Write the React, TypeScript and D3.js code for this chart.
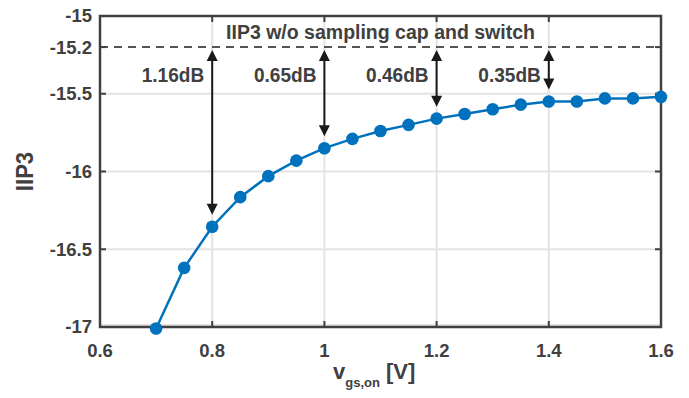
import React from "react";
import * as d3 from "d3";

const vgs = [0.7, 0.75, 0.8, 0.85, 0.9, 0.95, 1.0, 1.05, 1.1, 1.15, 1.2, 1.25, 1.3, 1.35, 1.4, 1.45, 1.5, 1.55, 1.6];
const iip3 = [-17.01, -16.62, -16.355, -16.165, -16.03, -15.93, -15.85, -15.79, -15.74, -15.70, -15.66, -15.63, -15.60, -15.57, -15.55, -15.55, -15.53, -15.53, -15.52];
const refLevel = -15.2;
const refLabel = "IIP3 w/o sampling cap and switch";
const arrowX = [0.8, 1.0, 1.2, 1.4];
const arrowLabels = ["1.16dB", "0.65dB", "0.46dB", "0.35dB"];
const xTicks = [0.6, 0.8, 1.0, 1.2, 1.4, 1.6];
const xTickLabels = ["0.6", "0.8", "1", "1.2", "1.4", "1.6"];
const yTicks = [-15, -15.2, -15.5, -16, -16.5, -17];
const yTickLabels = ["-15", "-15.2", "-15.5", "-16", "-16.5", "-17"];
const yGrid = [-15.5, -16, -16.5];

const W = 689, H = 398;
const L = 100, R = 661, T = 16, B = 327;
const FONT = "'Liberation Sans', Arial, sans-serif";
const AX = "#404040";
const BLUE = "#0072BD";

export default function App() {
  const x = d3.scaleLinear().domain([0.6, 1.6]).range([L, R]);
  const y = d3.scaleLinear().domain([-17, -15]).range([B, T]);
  const pts = vgs.map((v, i) => [v, iip3[i]] as [number, number]);
  const line = d3.line<[number, number]>().x(d => x(d[0])).y(d => y(d[1]));
  const ptOf = (v: number) => iip3[vgs.findIndex(a => Math.abs(a - v) < 1e-9)];
  const tick = 6;

  const arrowHead = (cx: number, tipY: number, dir: number) => {
    const hl = 11, hw = 5.5;
    return `M${cx},${tipY} L${cx - hw},${tipY + dir * hl} L${cx + hw},${tipY + dir * hl} Z`;
  };

  return (
    <svg width={W} height={H} style={{ position: "absolute", left: 0, top: 0, background: "#fff" }} fontFamily={FONT}>
      <rect x={0} y={0} width={W} height={H} fill="#fff" />
      {/* grid */}
      {xTicks.slice(1, -1).map((t, i) => (
        <line key={"gx" + i} x1={x(t)} x2={x(t)} y1={T} y2={B} stroke="#e3e3e3" strokeWidth={2} />
      ))}
      {yGrid.map((t, i) => (
        <line key={"gy" + i} x1={L} x2={R} y1={y(t)} y2={y(t)} stroke="#e3e3e3" strokeWidth={2} />
      ))}
      <line x1={L} x2={R} y1={B - 2} y2={B - 2} stroke="#e3e3e3" strokeWidth={2} />
      {/* dashed reference */}
      <line x1={L} x2={R} y1={y(refLevel)} y2={y(refLevel)} stroke="#555" strokeWidth={2} strokeDasharray="8,6" />
      <text x={(L + R) / 2} y={39} textAnchor="middle" fontSize={19.5} fontWeight="bold" fill={AX}>{refLabel}</text>
      {/* arrows */}
      {arrowX.map((v, i) => {
        const cx = x(v);
        const top = y(refLevel) + 3;
        const bot = y(ptOf(v)) - 12;
        return (
          <g key={"a" + i}>
            <line x1={cx} x2={cx} y1={top + 8} y2={bot - 8} stroke="#1a1a1a" strokeWidth={2} />
            <path d={arrowHead(cx, top, 1)} fill="#1a1a1a" />
            <path d={arrowHead(cx, bot, -1)} fill="#1a1a1a" />
            <text transform={`translate(${cx - 8},${y(refLevel) + 35}) scale(0.93,1)`} textAnchor="end" fontSize={20.5} fontWeight="bold" fill={AX}>{arrowLabels[i]}</text>
          </g>
        );
      })}
      {/* axes box */}
      <rect x={L} y={T} width={R - L} height={B - T} fill="none" stroke={AX} strokeWidth={2.5} />
      {xTicks.map((t, i) => (
        <g key={"xt" + i}>
          <line x1={x(t)} x2={x(t)} y1={B} y2={B - tick} stroke={AX} strokeWidth={2} />
          <line x1={x(t)} x2={x(t)} y1={T} y2={T + tick} stroke={AX} strokeWidth={2} />
          <text x={x(t)} y={357} textAnchor="middle" fontSize={18.5} fontWeight="bold" fill={AX}>{xTickLabels[i]}</text>
        </g>
      ))}
      {yTicks.map((t, i) => (
        <g key={"yt" + i}>
          <line x1={L} x2={L + tick} y1={y(t)} y2={y(t)} stroke={AX} strokeWidth={2} />
          <line x1={R} x2={R - tick} y1={y(t)} y2={y(t)} stroke={AX} strokeWidth={2} />
          <text x={92} y={y(t)} dy="0.35em" textAnchor="end" fontSize={18.5} fontWeight="bold" fill={AX}>{yTickLabels[i]}</text>
        </g>
      ))}
      {/* data */}
      <path d={line(pts) || ""} fill="none" stroke={BLUE} strokeWidth={2.5} />
      {pts.map((p, i) => (
        <circle key={"p" + i} cx={x(p[0])} cy={y(p[1])} r={6.3} fill={BLUE} />
      ))}
      {/* axis labels */}
      <text transform={`translate(33,${(T + B) / 2}) rotate(-90) scale(0.92,1)`} textAnchor="middle" fontSize={24} fontWeight="bold" fill={AX}>IIP3</text>
      <text x={333} y={379} fontSize={22} fontWeight="bold" fill={AX}>
        <tspan>v</tspan>
        <tspan fontSize={13} dy={8}>gs,on</tspan>
        <tspan dy={-8}> [V]</tspan>
      </text>
    </svg>
  );
}
